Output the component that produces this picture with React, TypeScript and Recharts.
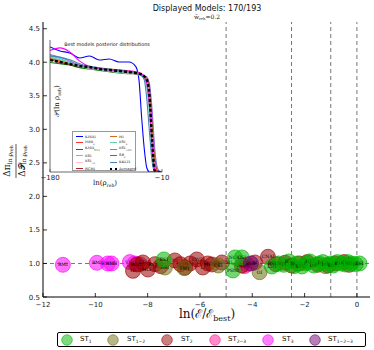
import React from 'react';
import { ScatterChart, Scatter, XAxis, YAxis, ReferenceLine, LineChart, Line, CartesianGrid } from 'recharts';

// ---------- main axes ----------
const xTicks = [-12, -10, -8, -6, -4, -2, 0];
const yTicks = [0.5, 1.0, 1.5, 2.0, 2.5, 3.0, 3.5, 4.0, 4.5];
const boundaryLines = [-5, -2.5, -1, 0];
const unityLine = 1.0;

// ---------- bubbles per reheating class ----------
const st3 = [
  { x: -11.24, y: 0.98, label: 'RMI' },
  { x: -9.94, y: 1.01, label: 'RMI' },
  { x: -9.52, y: 1.0, label: 'RMIII' },
  { x: -9.38, y: 1.0, label: 'RMII' },
  { x: -8.68, y: 1.02, label: 'VHI' },
  { x: -8.5, y: 1.0, label: 'SBI' },
  { x: -4.2, y: 0.985, label: 'NFI' },
];
const st23 = [
  { x: -8.3, y: 0.99, label: 'GMLFI' },
  { x: -4.3, y: 0.96, label: 'LPI' },
];
const st2 = [
  { x: -8.56, y: 0.89, label: 'HI' },
  { x: -8.41, y: 0.985, label: 'RCHI' },
  { x: -8.18, y: 1.015, label: 'LFI' },
  { x: -7.99, y: 0.91, label: 'MLFI' },
  { x: -7.72, y: 0.99, label: 'RCMI' },
  { x: -7.5, y: 0.96, label: 'RCQI' },
  { x: -6.96, y: 1.045, label: 'NI' },
  { x: -6.75, y: 0.99, label: 'PLI' },
  { x: -6.57, y: 0.94, label: 'KMII' },
  { x: -6.38, y: 1.0, label: 'HF1I' },
  { x: -6.12, y: 1.06, label: 'CWI' },
  { x: -5.89, y: 0.94, label: 'LI' },
  { x: -5.7, y: 1.0, label: 'RGI' },
  { x: -5.54, y: 0.985, label: 'MSSMI' },
  { x: -5.16, y: 1.015, label: 'GMSSMI' },
  { x: -4.4, y: 0.97, label: 'GRIPI' },
  { x: -3.9, y: 1.015, label: 'AI' },
  { x: -3.4, y: 1.1, label: 'CNAI' },
  { x: -3.1, y: 0.99, label: 'CNBI' },
  { x: -2.75, y: 1.01, label: 'OSTI' },
  { x: -2.5, y: 0.97, label: 'WRI' },
  { x: -2.2, y: 1.0, label: 'SFI' },
  { x: -1.9, y: 1.02, label: 'II' },
  { x: -1.5, y: 0.98, label: 'KKLTI' },
  { x: -1.1, y: 0.97, label: 'BI' },
  { x: -0.85, y: 1.0, label: 'RIPI' },
  { x: -0.5, y: 1.02, label: 'SSBI' },
  { x: -0.3, y: 0.98, label: 'MHI' },
];
const st12 = [
  { x: -7.34, y: 0.94, label: 'DSI' },
  { x: -6.6, y: 0.93, label: 'TWI' },
  { x: -5.3, y: 0.97, label: 'CSI' },
  { x: -3.72, y: 0.87, label: 'OI' },
  { x: -1.2, y: 0.96, label: 'CNCI' },
];
const st1 = [
  { x: -7.38, y: 1.06, label: 'ESI' },
  { x: -4.74, y: 0.895, label: 'PSNI' },
  { x: -4.66, y: 1.09, label: 'NCKI' },
  { x: -4.4, y: 1.09, label: 'CSI' },
  { x: -3.25, y: 0.955, label: 'LMI' },
  { x: -3.0, y: 1.0, label: 'BSUSYBI' },
  { x: -2.8, y: 0.98, label: 'TI' },
  { x: -2.6, y: 1.03, label: 'BEI' },
  { x: -2.4, y: 0.96, label: 'PSI' },
  { x: -2.3, y: 1.0, label: 'NCHI' },
  { x: -2.1, y: 0.955, label: 'VFMI' },
  { x: -1.95, y: 1.0, label: 'FI' },
  { x: -1.8, y: 1.03, label: 'HBI' },
  { x: -1.65, y: 0.97, label: 'IMI' },
  { x: -1.45, y: 1.0, label: 'SDI' },
  { x: -1.3, y: 1.02, label: 'DWI' },
  { x: -1.15, y: 0.98, label: 'MHI' },
  { x: -1.0, y: 1.0, label: 'RGI' },
  { x: -0.9, y: 0.97, label: 'SSBI' },
  { x: -0.75, y: 1.02, label: 'BI' },
  { x: -0.6, y: 1.0, label: 'KMIII' },
  { x: -0.45, y: 0.985, label: 'LI' },
  { x: -0.35, y: 1.02, label: 'CNDI' },
  { x: -0.2, y: 1.0, label: 'ESI' },
  { x: -0.05, y: 0.99, label: 'HI' },
  { x: 0.1, y: 1.0, label: 'ESI' },
];
const st123 = [
  { x: -4.05, y: 1.0, label: 'SSBI' },
];

// ---------- inset: posterior distributions ----------
const insetX = [-180, -165, -150, -135, -120, -105, -90, -75, -60, -50, -45, -41, -37, -33, -29, -25, -21, -17, -13, -10];
const insetTicks = [-180, -10];
const pKMIII = [0.947, 0.917, 0.902, 0.864, 0.879, 0.848, 0.856, 0.833, 0.833, 0.8, 0.7, 0.42, 0.18, 0.03, 0, 0, 0, 0, 0, 0];
const pMHI = [0.86, 0.84, 0.82, 0.8, 0.79, 0.78, 0.775, 0.77, 0.76, 0.755, 0.75, 0.74, 0.73, 0.7, 0.6, 0.35, 0.08, 0, 0, 0];
const pKMII = [0.83, 0.82, 0.81, 0.79, 0.78, 0.77, 0.76, 0.75, 0.745, 0.74, 0.735, 0.73, 0.72, 0.68, 0.52, 0.22, 0.02, 0, 0, 0];
const pESI = [0.88, 0.86, 0.83, 0.81, 0.79, 0.78, 0.77, 0.76, 0.755, 0.75, 0.745, 0.74, 0.72, 0.66, 0.48, 0.18, 0.01, 0, 0, 0];
const pESIr2 = [0.87, 0.85, 0.82, 0.8, 0.785, 0.775, 0.765, 0.755, 0.745, 0.74, 0.735, 0.73, 0.72, 0.69, 0.58, 0.3, 0.06, 0, 0, 0];
const pRCHI = [0.85, 0.83, 0.815, 0.8, 0.79, 0.78, 0.77, 0.76, 0.75, 0.745, 0.74, 0.735, 0.725, 0.71, 0.64, 0.4, 0.12, 0.01, 0, 0];
const pHI = [0.86, 0.845, 0.82, 0.805, 0.79, 0.785, 0.78, 0.775, 0.765, 0.76, 0.75, 0.745, 0.73, 0.7, 0.62, 0.38, 0.1, 0, 0, 0];
const pESIinf = [0.87, 0.85, 0.83, 0.8, 0.79, 0.775, 0.765, 0.755, 0.75, 0.745, 0.74, 0.73, 0.71, 0.64, 0.45, 0.15, 0.01, 0, 0, 0];
const pESIr23 = [0.89, 0.87, 0.84, 0.81, 0.79, 0.78, 0.77, 0.765, 0.76, 0.75, 0.745, 0.74, 0.73, 0.72, 0.67, 0.47, 0.18, 0.03, 0, 0];
const pSBI = [0.92, 0.94, 0.91, 0.84, 0.8, 0.785, 0.775, 0.77, 0.765, 0.76, 0.75, 0.74, 0.72, 0.67, 0.5, 0.2, 0.02, 0, 0, 0];
const pKKLTI = [0.88, 0.87, 0.85, 0.82, 0.8, 0.79, 0.78, 0.77, 0.76, 0.75, 0.74, 0.73, 0.7, 0.55, 0.3, 0.08, 0, 0, 0, 0];
const pAvg = [0.848, 0.833, 0.818, 0.803, 0.795, 0.78, 0.773, 0.765, 0.758, 0.75, 0.745, 0.74, 0.725, 0.7, 0.58, 0.24, 0.01, 0, 0, 0];

const insetSeries = [
  { key: 'KMIII', name: 'KMIII', sub: '', vals: pKMIII, color: '#0000ff' },
  { key: 'MHI', name: 'MHI', sub: 's', vals: pMHI, color: '#ff3030' },
  { key: 'KMII', name: 'KMII', sub: 'V>1', vals: pKMII, color: '#008000' },
  { key: 'ESI', name: 'ESI', sub: '', vals: pESI, color: '#20e0e0' },
  { key: 'ESIr2', name: 'ESI', sub: '√2', vals: pESIr2, color: '#ffc0cb' },
  { key: 'RCHI', name: 'RCHI', sub: '', vals: pRCHI, color: '#b22222' },
  { key: 'HI', name: 'HI', sub: '', vals: pHI, color: '#d2691e' },
  { key: 'ESIinf', name: 'ESI', sub: '∞', vals: pESIinf, color: '#66cdaa' },
  { key: 'ESIr23', name: 'ESI', sub: '√2/3', vals: pESIr23, color: '#9370db' },
  { key: 'SBI', name: 'SB', sub: 's', vals: pSBI, color: '#ff00ff' },
  { key: 'KKLTI', name: 'KKLTI', sub: '', vals: pKKLTI, color: '#4682b4' },
];

const insetData = insetX.map((x, i) => {
  const row: any = { x, avg: pAvg[i] };
  insetSeries.forEach((s) => { row[s.key] = s.vals[i]; });
  return row;
});

// ---------- legend ----------
const classes = [
  { name: 'ST', sub: '1', color: '#00b400', data: st1 },
  { name: 'ST', sub: '1−2', color: '#6e6e10', data: st12 },
  { name: 'ST', sub: '2', color: '#9a0000', data: st2 },
  { name: 'ST', sub: '2−3', color: '#ff1493', data: st23 },
  { name: 'ST', sub: '3', color: '#ff00ff', data: st3 },
  { name: 'ST', sub: '1−2−3', color: '#6e006e', data: st123 },
];
const drawOrder = [4, 3, 2, 1, 0, 5];

const fmtX = (v: number) => (v < 0 ? '−' + Math.abs(v) : String(v));

const BottomTick = (p: any) => (
  <g>
    <line x1={p.x} x2={p.x} y1={p.y} y2={p.y - 4} stroke="#000" strokeWidth={0.8} />
    <text x={p.x} y={p.y + 9.5} textAnchor="middle" fontSize={7} fontFamily="DejaVu Sans" fill="#222">{fmtX(p.payload.value)}</text>
  </g>
);
const TopTick = (p: any) => <line x1={p.x} x2={p.x} y1={p.y} y2={p.y + 4} stroke="#000" strokeWidth={0.8} />;
const LeftTick = (p: any) => (
  <g>
    <line x1={p.x} x2={p.x + 4} y1={p.y} y2={p.y} stroke="#000" strokeWidth={0.8} />
    <text x={p.x - 3} y={p.y + 2.5} textAnchor="end" fontSize={7} fontFamily="DejaVu Sans" fill="#222">{p.payload.value.toFixed(1)}</text>
  </g>
);
const RightTick = (p: any) => <line x1={p.x} x2={p.x - 4} y1={p.y} y2={p.y} stroke="#000" strokeWidth={0.8} />;

const InsetBottomTick = (p: any) => (
  <g>
    <line x1={p.x} x2={p.x} y1={p.y} y2={p.y - 3} stroke="#444" strokeWidth={0.7} />
    <text x={p.x} y={p.y + 8} textAnchor="middle" fontSize={7} fontFamily="DejaVu Sans" fill="#222">{fmtX(p.payload.value)}</text>
  </g>
);

const makeBubble = (color: string) => (props: any) => {
  const { cx, cy, payload } = props;
  return (
    <g>
      <circle cx={cx} cy={cy} r={7.5} fill={color} fillOpacity={0.55} stroke={color} strokeOpacity={0.9} strokeWidth={0.7} />
      <text x={cx} y={cy + 1.5} textAnchor="middle" fontSize={4.5} fontFamily="DejaVu Serif" fill="#000">{payload.label}</text>
    </g>
  );
};

const MainChart = () => (
  <ScatterChart width={374} height={350} margin={{ top: 22, right: 4, left: 0, bottom: 0 }}>
    <XAxis dataKey="x" type="number" domain={[-12, 0.5]} ticks={xTicks} interval={0} height={53}
      tickSize={0} tickMargin={0} tickLine={false} tick={<BottomTick />} axisLine={{ stroke: '#000', strokeWidth: 1 }} allowDataOverflow />
    <XAxis xAxisId="t" orientation="top" type="number" domain={[-12, 0.5]} ticks={xTicks} interval={0} height={0}
      tickSize={0} tickMargin={0} tickLine={false} tick={<TopTick />} axisLine={{ stroke: '#000', strokeWidth: 1 }} allowDataOverflow />
    <YAxis dataKey="y" type="number" domain={[0.5, 4.6]} ticks={yTicks} interval={0} width={43}
      tickSize={0} tickMargin={0} tickLine={false} tick={<LeftTick />} axisLine={{ stroke: '#000', strokeWidth: 1 }} allowDataOverflow />
    <YAxis yAxisId="r" orientation="right" type="number" domain={[0.5, 4.6]} ticks={yTicks} interval={0} width={0}
      tickSize={0} tickMargin={0} tickLine={false} tick={<RightTick />} axisLine={{ stroke: '#000', strokeWidth: 1 }} allowDataOverflow />
    <ReferenceLine y={unityLine} stroke="#666" strokeDasharray="4 3" strokeWidth={0.9} />
    {boundaryLines.map((v) => (
      <ReferenceLine key={v} x={v} stroke="#666" strokeDasharray="4 3" strokeWidth={0.9} />
    ))}
    {drawOrder.map((i) => (
      <Scatter key={i} name={classes[i].name + classes[i].sub} data={classes[i].data} isAnimationActive={false}
        shape={makeBubble(classes[i].color)} />
    ))}
    <text x={207} y={11} textAnchor="middle" fontSize={8} fontFamily="DejaVu Sans" fill="#111">Displayed Models: 170/193</text>
    <text x={207} y={18.5} textAnchor="middle" fontSize={6} fontFamily="DejaVu Serif" fill="#222">
      w̄<tspan fontSize={3.8} dy={1.2}>reh</tspan><tspan dy={-1.2}>=0.2</tspan>
    </text>
    <text x={207} y={318} textAnchor="middle" fontSize={12} fontFamily="DejaVu Serif" fill="#111">
      ln(ℰ/ℰ<tspan fontSize={8} dy={3}>best</tspan><tspan dy={-3}>)</tspan>
    </text>
    <g transform="translate(16,161) rotate(-90)">
      <text x={0} y={-6} textAnchor="middle" fontSize={9} fontFamily="DejaVu Serif" fill="#111">
        Δπ<tspan fontSize={6} dy={1.5}>ln ρ</tspan><tspan fontSize={4.5} dy={1.2}>reh</tspan>
      </text>
      <line x1={-17} x2={17} y1={0} y2={0} stroke="#111" strokeWidth={0.7} />
      <text x={0} y={8.5} textAnchor="middle" fontSize={9} fontFamily="DejaVu Serif" fill="#111">
        Δ𝒫<tspan fontSize={6} dy={1.5}>ln ρ</tspan><tspan fontSize={4.5} dy={1.2}>reh</tspan>
      </text>
    </g>
  </ScatterChart>
);

const InsetChart = () => (
  <LineChart width={130} height={152} data={insetData} margin={{ top: 0, right: 8, left: 0, bottom: 0 }}>
    <CartesianGrid horizontal={false} vertical={false} fill="#ffffff" />
    <XAxis dataKey="x" type="number" domain={[-180, -10]} ticks={insetTicks} interval={0} height={20}
      tickSize={0} tickMargin={0} tickLine={false} tick={<InsetBottomTick />} axisLine={{ stroke: '#444', strokeWidth: 0.8 }} allowDataOverflow />
    <XAxis xAxisId="t" orientation="top" type="number" domain={[-180, -10]} height={0} tick={false} tickLine={false}
      axisLine={{ stroke: '#444', strokeWidth: 0.8 }} />
    <YAxis type="number" domain={[0, 1]} width={10} tick={false} tickLine={false} axisLine={{ stroke: '#444', strokeWidth: 0.8 }} allowDataOverflow />
    <YAxis yAxisId="r" orientation="right" type="number" domain={[0, 1]} width={0} tick={false} tickLine={false}
      axisLine={{ stroke: '#444', strokeWidth: 0.8 }} />
    {insetSeries.map((s) => (
      <Line key={s.key} dataKey={s.key} type="monotone" stroke={s.color} strokeWidth={1.1} dot={false} isAnimationActive={false} />
    ))}
    <Line dataKey="avg" type="monotone" stroke="#000" strokeWidth={2.4} strokeDasharray="3 2" dot={false} isAnimationActive={false} />
    <text x={67} y={6} textAnchor="middle" fontSize={4.9} fontFamily="DejaVu Sans" fill="#111">Best models posterior distributions</text>
    <g transform="translate(19,61) rotate(-90)">
      <text x={0} y={0} textAnchor="middle" fontSize={7} fontFamily="DejaVu Serif" fill="#111">
        𝒫(ln ρ<tspan fontSize={4.5} dy={1.5}>reh</tspan><tspan dy={-1.5}>)</tspan>
      </text>
    </g>
    <text x={65} y={145} textAnchor="middle" fontSize={7} fontFamily="DejaVu Serif" fill="#111">
      ln(ρ<tspan fontSize={4.5} dy={1.5}>reh</tspan><tspan dy={-1.5}>)</tspan>
    </text>
  </LineChart>
);

const InsetLegend = () => {
  const entries = [
    ...insetSeries.map((s) => ({ ...s, dashed: false })),
    { key: 'avg', name: 'Averaged', sub: '', color: '#000', dashed: true },
  ];
  return (
    <div style={{ position: 'absolute', left: 72, top: 131, width: 64, height: 40, border: '0.8px solid #999', background: '#fff', boxSizing: 'border-box' }}>
      {entries.map((e, i) => {
        const col = i < 6 ? 0 : 1;
        const row = i % 6;
        return (
          <div key={e.key + i} style={{ position: 'absolute', left: col === 0 ? 3 : 37, top: 1.5 + row * 6.4, height: 6, display: 'flex', alignItems: 'center', whiteSpace: 'nowrap' }}>
            <span style={{ display: 'inline-block', width: 7, height: 0, borderTop: e.dashed ? '2px dotted #000' : `1.4px solid ${e.color}`, marginRight: 2 }} />
            <span style={{ fontSize: 3.6, fontFamily: 'DejaVu Serif', color: '#222' }}>
              {e.name}{e.sub ? <sub style={{ fontSize: 2.6 }}>{e.sub}</sub> : null}
            </span>
          </div>
        );
      })}
    </div>
  );
};

const legendCircleX = [9, 55, 109, 157, 210, 257];
const legendTextX = [22, 69, 123, 170, 224, 270];

const MainLegend = () => (
  <div style={{ position: 'absolute', left: 57, top: 332, width: 309, height: 15, border: '1px solid #000', borderRadius: 2, boxSizing: 'border-box', background: '#fff' }}>
    {classes.map((c, i) => (
      <React.Fragment key={i}>
        <svg style={{ position: 'absolute', left: legendCircleX[i] - 6, top: 0.5 }} width={12} height={12}>
          <circle cx={6} cy={6} r={5.3} fill={c.color} fillOpacity={0.5} stroke={c.color} strokeOpacity={0.8} strokeWidth={0.7} />
        </svg>
        <span style={{ position: 'absolute', left: legendTextX[i], top: 2, fontSize: 7, lineHeight: '9px', fontFamily: 'DejaVu Sans', color: '#111', whiteSpace: 'nowrap' }}>
          {c.name}<sub style={{ fontSize: 4.5 }}>{c.sub}</sub>
        </span>
      </React.Fragment>
    ))}
  </div>
);

export default function App() {
  return (
    <div style={{ position: 'absolute', left: 0, top: 0, width: 374, height: 350, background: '#fff', overflow: 'hidden' }}>
      <MainChart />
      <div style={{ position: 'absolute', left: 40, top: 40 }}>
        <InsetChart />
      </div>
      <InsetLegend />
      <MainLegend />
    </div>
  );
}
